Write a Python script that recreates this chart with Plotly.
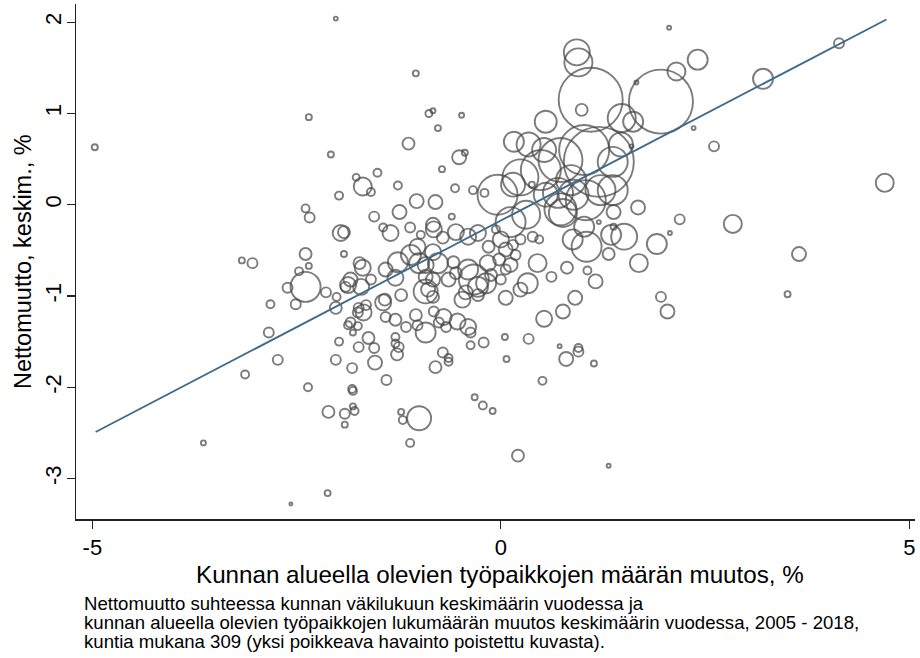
import plotly.graph_objects as go
import numpy as np

# Työpaikkojen määrän muutos, % (x) ; nettomuutto, % (y) ; väkiluku (tuhatta)
tyopaikat = [-4.97,-2.02,-1.04,-2.35,-0.88,-0.83,-0.77,-0.48,-1.13,-2.08,-0.51,-0.44,-0.72,-1.51,-1.77,-1.69,
 2.06,0.93,0.95,2.41,1.10,0.99,1.96,2.15,1.66,1.48,1.62,2.36,1.60,3.21,4.14,2.61,4.70,0.55,0.16,0.34,0.53,
 1.20,1.02,0.73,0.49,0.24,-0.04,0.15,0.73,0.31,1.04,1.22,1.37,1.47,0.55,0.86,
 1.68,2.19,2.07,1.91,1.69,1.96,2.04,1.38,1.35,1.51,1.20,1.38,1.05,0.88,1.02,1.32,1.06,1.16,0.81,0.62,0.45,0.91,0.76,0.53,0.34,0.05,0.72,0.95,0.33,0.24,0.06,0.38,0.39,0.24,0.47,0.76,0.70,0.89,1.37,0.12,
 0.00,0.06,-0.02,0.12,-0.12,0.00,0.18,-0.06,0.06,0.15,
 -1.98,-1.59,-1.26,-1.03,-0.80,-0.56,-0.34,-0.20,-2.39,-2.34,-1.55,-1.24,-0.60,-1.96,-1.92,-1.44,-1.35,-1.11,-0.98,-0.83,-0.82,-0.71,-0.55,-0.40,-0.28,
 -2.39,-1.92,-2.35,-2.47,-2.39,-2.61,-2.51,-2.14,-2.01,-2.02,-1.73,-1.69,-1.84,-1.87,-1.90,-1.71,-1.59,-1.41,-1.29,-1.26,-1.10,-1.02,-0.83,-1.00,-0.92,-0.77,-0.58,-0.92,-0.83,-0.64,-0.55,-0.40,-0.33,-0.28,-0.43,-0.47,-0.92,-0.89,-0.83,-1.22,-1.42,-1.44,-1.74,-1.65,-1.41,-1.68,-1.75,-1.84,-1.87,-1.75,-1.81,-1.62,-1.98,-1.74,-1.55,-1.29,-1.16,-1.02,-1.04,-0.92,-0.82,-0.76,-0.70,-0.67,-0.53,-0.40,-0.37,-0.21,-0.37,-1.29,-1.29,-1.25,-0.15,-0.16,-0.18,-0.28,
 -3.17,-3.04,-2.82,-2.84,-3.13,-2.73,-3.64,
 -2.02,-1.82,-1.54,-1.27,-1.40,-2.36,-1.82,-1.81,-2.11,-1.91,-1.81,-1.79,-1.91,-1.22,-1.20,-1.00,-1.11,-0.80,-0.71,-0.64,-0.64,-0.32,-0.22,-0.10,-2.12,-2.57,
 0.07,0.80,0.95,1.14,0.51,0.21,1.32,2.84,3.65,3.51]

nettomuutto = [0.63,2.04,1.44,0.96,1.00,1.03,0.84,0.98,0.67,0.55,0.52,0.57,0.39,0.35,0.30,0.20,
 1.94,1.67,1.56,1.59,1.15,1.04,1.13,1.46,1.34,0.95,0.91,0.84,0.64,1.38,1.77,0.64,0.24,0.91,0.69,0.66,0.60,
 0.47,0.60,0.49,0.38,0.30,0.11,0.22,-0.05,-0.11,0.05,0.16,0.47,0.66,0.11,0.27,
 -0.03,-0.16,-0.31,-0.43,-0.64,-1.01,-1.17,-0.08,-0.33,-0.35,-0.19,-0.24,-0.46,-0.38,-0.24,-0.54,-0.72,-0.84,-0.69,-0.79,-0.64,-1.02,-1.17,-1.25,-1.47,-1.45,-1.55,-1.57,-0.86,-0.93,-1.02,0.22,-0.35,-0.38,-0.38,-0.09,0.13,0.11,0.16,-0.19,
 -0.38,-0.49,-0.60,-0.66,-0.77,-0.82,-0.55,-0.27,-0.71,-0.44,
 0.10,0.14,0.21,0.04,0.03,0.18,0.16,0.13,-0.04,-0.14,-0.13,-0.08,-0.13,-0.31,-0.30,-0.25,-0.31,-0.25,-0.33,-0.22,-0.27,-0.36,-0.30,-0.35,-0.31,
 -0.54,-0.54,-0.67,-0.73,-0.90,-0.91,-1.09,-0.96,-1.01,-1.13,-0.64,-0.69,-0.82,-0.88,-0.90,-0.90,-0.82,-0.71,-0.80,-0.63,-0.55,-0.46,-0.52,-0.64,-0.66,-0.64,-0.63,-0.79,-0.82,-0.82,-0.75,-0.71,-0.82,-0.90,-0.96,-1.04,-0.95,-0.93,-1.01,-0.99,-1.04,-1.07,-1.13,-1.10,-1.23,-1.18,-1.18,-1.29,-1.32,-1.33,-1.40,-1.46,-1.50,-1.56,-1.57,-1.26,-1.34,-1.32,-1.21,-1.40,-1.17,-1.29,-1.23,-1.34,-1.28,-1.34,-1.40,-1.51,-1.54,-1.52,-1.45,-1.56,-0.46,-0.64,-0.86,-0.99,
 -0.61,-0.64,-1.09,-1.40,-1.86,-1.70,-2.61,
 -1.70,-1.79,-1.73,-1.64,-1.92,-2.00,-2.02,-2.04,-2.27,-2.29,-2.21,-2.26,-2.41,-2.27,-2.36,-2.34,-2.61,-1.78,-1.62,-1.72,-1.68,-2.11,-2.20,-2.26,-3.16,-3.28,
 -1.69,-1.69,-1.61,-1.74,-1.93,-2.75,-2.86,-0.21,-0.54,-0.98]

vakiluku = [4.8,2.1,4.8,4.8,6.5,3.3,4.8,3.3,19,4.8,26,4.8,4.8,8.5,6.5,43,
 2.1,89,104,53,542,19,542,43,2.1,104,53,2.1,2.1,53,13.2,13.2,43,64,53,76,76,
 648,331,256,212,171,212,76,135,104,212,119,119,76,76,119,
 26,13.2,2.1,53,43,13.2,26,26,53,89,2.1,4.8,119,53,53,19,8.5,26,19,13.2,43,26,26,34,13.2,4.8,2.1,8.5,53,26,26,4.8,13.2,13.2,8.5,104,119,119,119,119,
 34,26,19,26,19,13.2,13.2,8.5,13.2,13.2,
 8.5,8.5,8.5,26,26,8.5,8.5,8.5,8.5,13.2,13.2,26,4.8,34,19,8.5,34,13.2,8.5,26,34,19,34,34,34,
 19,4.8,4.8,8.5,119,13.2,13.2,13.2,8.5,19,19,34,26,34,13.2,34,13.2,26,34,53,53,34,34,53,34,53,19,26,26,26,19,53,119,53,26,34,76,26,19,19,19,34,13.2,13.2,13.2,34,13.2,13.2,8.5,8.5,4.8,19,8.5,13.2,13.2,19,13.2,13.2,19,53,13.2,13.2,34,13.2,34,34,13.2,13.2,8.5,8.5,8.5,13.2,19,34,53,19,
 4.8,13.2,8.5,13.2,8.5,13.2,3.3,
 13.2,13.2,26,19,13.2,8.5,8.5,8.5,19,13.2,4.8,8.5,4.8,4.8,8.5,76,8.5,19,13.2,8.5,8.5,4.8,8.5,4.8,4.8,1.2,
 4.8,26,13.2,4.8,8.5,19,2.1,43,26,4.8]

# Sovitettu suora (painotettu regressio)
sovite_x = [-4.96, 4.72]
sovite_vakio = -0.174
sovite_kulma = 0.467

x_tickvals = [-5, 0, 5]
x_ticktext = ["-5", "0", "5"]
y_tickvals = [-3, -2, -1, 0, 1, 2]
y_ticktext = ["-3", "-2", "-1", "0", "1", "2"]

x_title = "Kunnan alueella olevien työpaikkojen määrän muutos, %"
y_title = "Nettomuutto, keskim., %"
caption_lines = ["Nettomuutto suhteessa kunnan väkilukuun keskimäärin vuodessa ja",
                 "kunnan alueella olevien työpaikkojen lukumäärän muutos keskimäärin vuodessa, 2005 - 2018,",
                 "kuntia mukana 309 (yksi poikkeava havainto poistettu kuvasta)."]

sizes = [2.75 * np.sqrt(v) for v in vakiluku]

fig = go.Figure()
fig.add_trace(go.Scatter(
    x=tyopaikat, y=nettomuutto, mode="markers",
    marker=dict(symbol="circle-open", size=sizes, color="#454545",
                line=dict(width=1.9, color="#454545")),
    hoverinfo="skip", showlegend=False))

fy = [sovite_vakio + sovite_kulma * v for v in sovite_x]
fig.add_trace(go.Scatter(x=sovite_x, y=fy, mode="lines",
                         line=dict(color="#3d6a8c", width=1.8),
                         hoverinfo="skip", showlegend=False))

font = "Liberation Sans, Arial, sans-serif"
FW, FH = 920, 658
L, T, W, H = 76, 4, 839, 515

def py_paper(wy):
    return (T + H - wy) / H

def px_paper(wx):
    return (wx - L) / W

annotations = [
    dict(text=x_title, xref="paper", yref="paper", x=px_paper(500), y=py_paper(574),
         xanchor="center", yanchor="middle", showarrow=False,
         font=dict(size=24.2, family=font, color="black")),
    dict(text=y_title, xref="paper", yref="paper", x=px_paper(23), y=py_paper(262),
         xanchor="center", yanchor="middle", showarrow=False, textangle=-90,
         font=dict(size=23.5, family=font, color="black")),
]
for i, line in enumerate(caption_lines):
    annotations.append(dict(text=line, xref="paper", yref="paper",
                            x=px_paper(82), y=py_paper(603 + 19 * i),
                            xanchor="left", yanchor="middle", showarrow=False, align="left",
                            font=dict(size=18.6, family=font, color="black")))

fig.update_layout(
    width=FW, height=FH,
    margin=dict(l=L, r=FW - L - W, t=T, b=FH - T - H),
    plot_bgcolor="white", paper_bgcolor="white",
    font=dict(family=font, color="black"),
    xaxis=dict(range=[-5.2, 5.07], tickvals=x_tickvals, ticktext=x_ticktext,
               showgrid=False, zeroline=False, automargin=False,
               showline=True, linecolor="#222", linewidth=1.5, ticks="outside",
               ticklen=8, tickwidth=1.2, tickcolor="#222",
               tickfont=dict(size=22, family=font)),
    yaxis=dict(range=[-3.444, 2.2], tickvals=y_tickvals, ticktext=y_ticktext,
               showgrid=False, zeroline=False, automargin=False,
               showline=True, linecolor="#222", linewidth=1.5, ticks="outside",
               ticklen=8, tickwidth=1.2, tickcolor="#222", tickangle=-90,
               ticklabelstandoff=-3,
               tickfont=dict(size=22, family=font)),
    annotations=annotations,
)

fig.write_html("out.html", config={"displayModeBar": False, "staticPlot": True},
               post_script="document.body.style.margin='0px';document.body.style.overflow='hidden';")
